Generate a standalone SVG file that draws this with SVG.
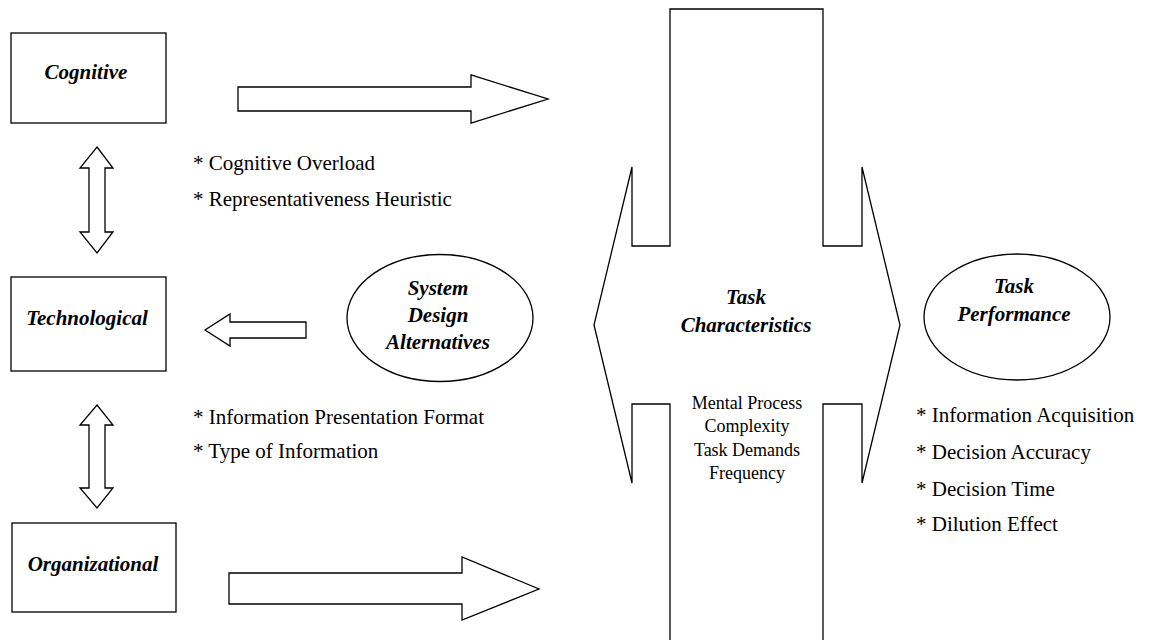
<svg xmlns="http://www.w3.org/2000/svg" width="1149" height="640" viewBox="0 0 1149 640">
<style>
.shp{fill:#fff;stroke:#000;stroke-width:1.3;stroke-linejoin:miter}
.lbl{font-family:"Liberation Serif","Times New Roman",serif;font-weight:bold;font-style:italic;font-size:21px;text-anchor:middle;fill:#000}
.bul{font-family:"Liberation Serif","Times New Roman",serif;font-size:21px;fill:#000}
.sm{font-family:"Liberation Serif","Times New Roman",serif;font-size:18px;text-anchor:middle;fill:#000}
</style>
<rect x="0" y="0" width="1149" height="640" fill="#fff"/>
<g id="task-characteristics">
<path class="shp" d="M670,9 L823,9 L823,246 L862,246 L862,167 L900,325 L862,483 L862,404 L823,404 L823,660 L670,660 L670,404 L632,404 L632,483 L594,325 L632,167 L632,246 L670,246 Z"/>
<text class="lbl" x="746" y="304">Task</text>
<text class="lbl" x="746" y="332">Characteristics</text>
<text class="sm" x="747" y="409">Mental Process</text>
<text class="sm" x="747" y="432">Complexity</text>
<text class="sm" x="747" y="456">Task Demands</text>
<text class="sm" x="747" y="479">Frequency</text>
</g>
<g id="connectors">
<path class="shp" d="M238,87 L471,87 L471,75 L548,99 L471,123 L471,111 L238,111 Z"/>
<path class="shp" d="M229,573 L462,573 L462,557 L539,589 L462,620 L462,604 L229,604 Z"/>
<path class="shp" d="M306,322 L230,322 L230,314 L205,330 L230,346 L230,338 L306,338 Z"/>
<path class="shp" d="M97,147 L113,168 L105,168 L105,232 L113,232 L97,253 L80,232 L89,232 L89,168 L80,168 Z"/>
<path class="shp" d="M97,405 L113,425 L105,425 L105,488 L113,488 L97,508 L80,488 L89,488 L89,425 L80,425 Z"/>
</g>
<g id="cognitive">
<rect class="shp" x="11" y="33" width="155" height="90"/>
<text class="lbl" x="86" y="79">Cognitive</text>
</g>
<g id="technological">
<rect class="shp" x="11" y="277" width="155" height="94"/>
<text class="lbl" x="87" y="325">Technological</text>
</g>
<g id="organizational">
<rect class="shp" x="12" y="523" width="164" height="89"/>
<text class="lbl" x="93" y="571">Organizational</text>
</g>
<g id="system-design">
<ellipse class="shp" cx="440" cy="318" rx="93" ry="63.5"/>
<text class="lbl" x="438" y="295">System</text>
<text class="lbl" x="438" y="322">Design</text>
<text class="lbl" x="438" y="349">Alternatives</text>
</g>
<g id="task-performance">
<ellipse class="shp" cx="1017" cy="317" rx="93" ry="63"/>
<text class="lbl" x="1014" y="293">Task</text>
<text class="lbl" x="1014" y="321">Performance</text>
</g>
<g id="notes">
<text class="bul" x="193" y="170">* Cognitive Overload</text>
<text class="bul" x="193" y="206">* Representativeness Heuristic</text>
<text class="bul" x="193" y="424">* Information Presentation Format</text>
<text class="bul" x="193" y="458">* Type of Information</text>
<text class="bul" x="916" y="422">* Information Acquisition</text>
<text class="bul" x="916" y="459">* Decision Accuracy</text>
<text class="bul" x="916" y="496">* Decision Time</text>
<text class="bul" x="916" y="531">* Dilution Effect</text>
</g>
</svg>
